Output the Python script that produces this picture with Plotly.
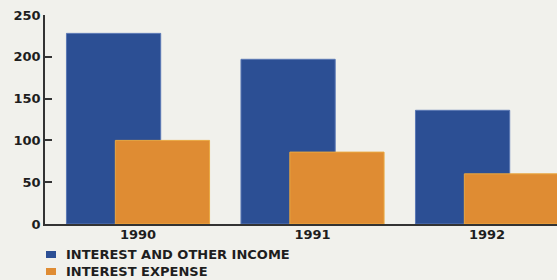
import plotly.graph_objects as go

categories = ["1990", "1991", "1992"]
income = [228, 197, 136]
expense = [100, 86, 60]
y_ticks = [0, 50, 100, 150, 200, 250]
series_names = ["INTEREST AND OTHER INCOME", "INTEREST EXPENSE"]
series_colors = ["#2c4f94", "#df8c33"]

xpos = list(range(len(categories)))
FONT = "DejaVu Sans, Liberation Sans, Arial, sans-serif"

fig = go.Figure()
fig.add_trace(go.Bar(
    x=xpos, y=income, name=series_names[0],
    width=0.54, offset=-0.41,
    marker=dict(color=series_colors[0], line=dict(color="#5a78b4", width=1)),
))
fig.add_trace(go.Bar(
    x=xpos, y=expense, name=series_names[1],
    width=0.54, offset=-0.13,
    marker=dict(color=series_colors[1], line=dict(color="#eaa840", width=1)),
))

# plot area spans pixels y 15..224 (209 px), x 45..557 (512 px)
def py(pix):
    return (224 - pix) / 209.0

def px(pix):
    return (pix - 45) / 512.0

# manual legend: small squares + one two-line bold caps text
square_rows = [(251, 258), (268, 275)]
for (s0, s1), col in zip(square_rows, series_colors):
    fig.add_shape(type="rect", xref="paper", yref="paper",
                  x0=px(46), x1=px(56), y0=py(s1), y1=py(s0),
                  fillcolor=col, line=dict(width=0))
fig.add_annotation(xref="paper", yref="paper", x=px(65), y=py(263),
                   xanchor="left", yanchor="middle", align="left",
                   showarrow=False, borderpad=0,
                   text="<br>".join("<b>%s</b>" % n for n in series_names),
                   font=dict(family=FONT, size=13, color="#1e1e1e"))

fig.update_layout(
    width=557, height=280,
    barmode="overlay",
    paper_bgcolor="#f1f1ec", plot_bgcolor="#f1f1ec",
    margin=dict(l=45, r=0, t=15, b=56, autoexpand=False),
    font=dict(family=FONT, color="#1e1e1e"),
    showlegend=False,
)
fig.update_xaxes(
    range=[-0.533, 2.401], tickvals=xpos,
    ticktext=["<b>%s</b>" % c for c in categories],
    tickfont=dict(size=13), showline=True, linecolor="#333333", linewidth=1.5,
    showgrid=False, zeroline=False, ticks="", ticklabelstandoff=-2,
)
fig.update_yaxes(
    range=[0, 250], tickvals=y_ticks,
    ticktext=["<b>%d</b>" % v for v in y_ticks],
    tickfont=dict(size=13), showline=True, linecolor="#333333", linewidth=1.5,
    ticks="inside", ticklen=7, tickcolor="#333333", tickwidth=1.5,
    showgrid=False, zeroline=False,
)

fig.write_html("out.html", config={"displayModeBar": False},
               post_script="document.body.style.margin='0';document.body.style.overflow='hidden';")
